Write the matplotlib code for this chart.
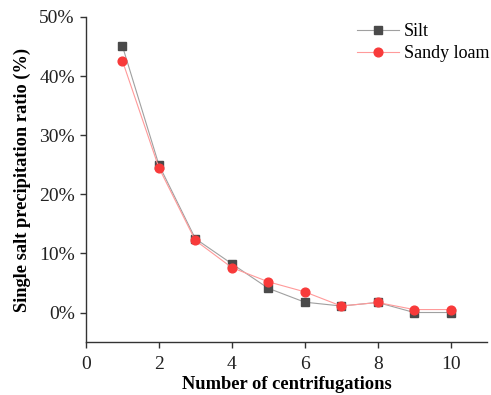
import matplotlib
matplotlib.use("Agg")
import matplotlib.pyplot as plt
from matplotlib.ticker import PercentFormatter

x = [1, 2, 3, 4, 5, 6, 7, 8, 9, 10]
silt = [45.1, 25.0, 12.5, 8.25, 4.1, 1.75, 1.1, 1.7, 0.0, 0.0]
sandy_loam = [42.6, 24.5, 12.2, 7.6, 5.2, 3.5, 1.1, 1.7, 0.5, 0.5]

plt.rcParams['font.family'] = ['Liberation Serif', 'DejaVu Serif']

fig = plt.figure(figsize=(4.91, 3.95), dpi=100)
ax = fig.add_axes([0.175, 0.134, 0.817, 0.823])

ax.plot(x, silt, color='#a0a0a0', lw=0.8, marker='s', ms=5.5,
        mfc='#4a4a4a', mec='#4a4a4a', label='Silt')
ax.plot(x, sandy_loam, color='#ff9a9a', lw=0.8, marker='o', ms=6.3,
        mfc='#f83a3a', mec='#f83a3a', label='Sandy loam')

ax.set_xlim(0, 11)
ax.set_ylim(-5, 50)
ax.set_xticks([0, 2, 4, 6, 8, 10])
ax.set_yticks([0, 10, 20, 30, 40, 50])
ax.yaxis.set_major_formatter(PercentFormatter(decimals=0))
ax.spines['top'].set_visible(False)
ax.spines['right'].set_visible(False)
for s in ('left', 'bottom'):
    ax.spines[s].set_linewidth(1.0)
    ax.spines[s].set_color('#333333')
ax.tick_params(direction='out', length=4, width=1.0, labelsize=14, colors='#333333')
ax.tick_params(axis='x', pad=6)
ax.tick_params(axis='y', pad=4)
ax.tick_params(labelcolor='#222222')

ax.set_xlabel('Number of centrifugations', fontsize=13.3, fontweight='bold', labelpad=2)
ax.set_ylabel('Single salt precipitation ratio (%)', fontsize=13.2, fontweight='bold', labelpad=6)

ax.legend(loc='upper left', frameon=False, fontsize=13, handlelength=2.3,
          handletextpad=0.3, borderaxespad=0, borderpad=0, labelspacing=0.3,
          bbox_to_anchor=(357 / 491, 1 - 23 / 395), bbox_transform=fig.transFigure)

fig.savefig('out.png', dpi=100)
